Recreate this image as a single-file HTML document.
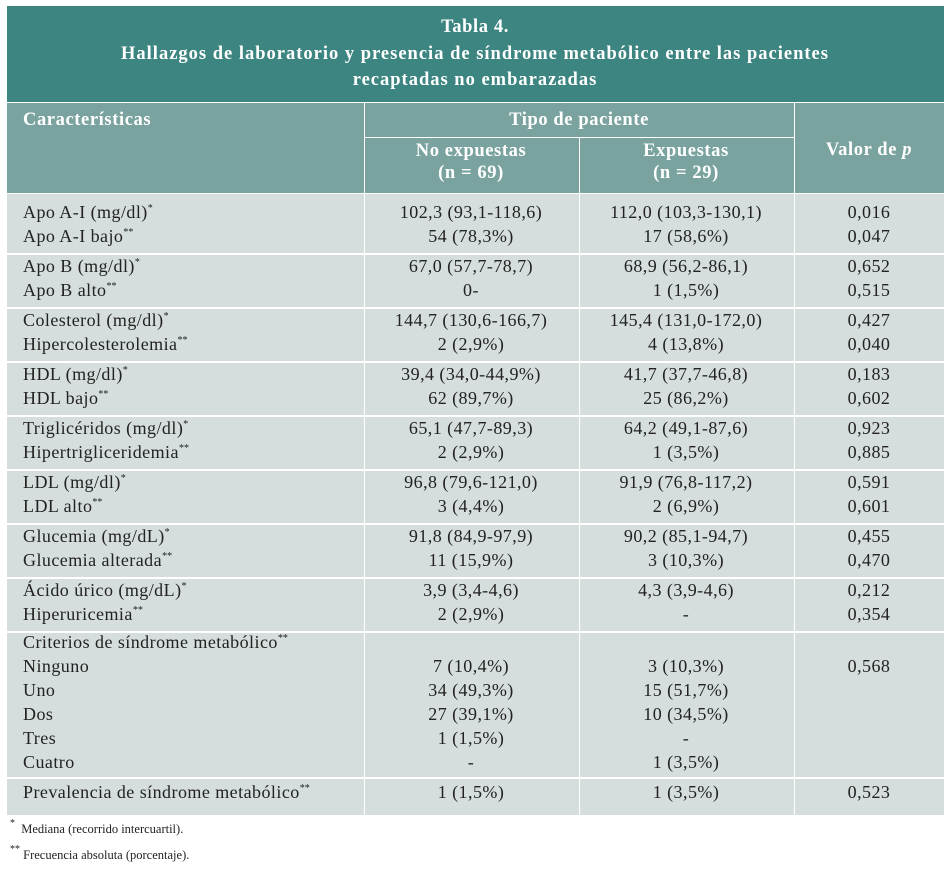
<!DOCTYPE html>
<html><head><meta charset="utf-8"><style>
body{margin:0;width:948px;height:870px;background:#fff;position:relative;font-family:"Liberation Serif",serif;color:#222;overflow:hidden}
.b{position:absolute}
.t{position:absolute;line-height:22px;font-size:18px;letter-spacing:0.45px;white-space:nowrap}
.c{transform:translateX(-50%)}
.h{color:#fff;font-weight:bold;font-size:18.5px;letter-spacing:0.6px}
sup{font-size:10px;vertical-align:7px;line-height:0;letter-spacing:0}
.f{position:absolute;font-size:12.5px;white-space:nowrap}
</style></head><body>
<div class="b" style="left:7px;top:6px;width:937px;height:96px;background:#3d8580"></div>
<div class="b" style="left:7px;top:103px;width:937px;height:90px;background:#7aa39f"></div>
<div class="b" style="left:7px;top:194px;width:937px;height:621px;background:#d6dddd"></div>
<div class="t c h" style="left:475px;top:16px">Tabla 4.</div>
<div class="t c h" style="left:475px;top:43px;letter-spacing:1px">Hallazgos de laboratorio y presencia de síndrome metabólico entre las pacientes</div>
<div class="t c h" style="left:475px;top:69px;letter-spacing:1px">recaptadas no embarazadas</div>
<div class="b" style="left:364px;top:103px;width:1px;height:90px;background:#fff"></div>
<div class="b" style="left:579px;top:137px;width:1px;height:56px;background:#fff"></div>
<div class="b" style="left:794px;top:103px;width:1px;height:90px;background:#fff"></div>
<div class="b" style="left:364px;top:137px;width:430px;height:1px;background:#fff"></div>
<div class="b" style="left:7px;top:193px;width:937px;height:1px;background:#fff"></div>
<div class="t h" style="left:23px;top:109px">Características</div>
<div class="t c h" style="left:579px;top:109px">Tipo de paciente</div>
<div class="t c h" style="left:471px;top:140px;text-align:center">No expuestas<br>(n = 69)</div>
<div class="t c h" style="left:686px;top:140px;text-align:center">Expuestas<br>(n = 29)</div>
<div class="t c h" style="left:869px;top:139px">Valor de <i>p</i></div>
<div class="b" style="left:364px;top:194px;width:1px;height:621px;background:#fff"></div>
<div class="b" style="left:579px;top:194px;width:1px;height:621px;background:#fff"></div>
<div class="b" style="left:794px;top:194px;width:1px;height:621px;background:#fff"></div>
<div id="rows"></div>
<div class="f" style="left:10px;top:822px"><sup>*</sup>&nbsp;&nbsp;Mediana (recorrido intercuartil).</div>
<div class="f" style="left:10px;top:848px"><sup>**</sup>&nbsp;Frecuencia absoluta (porcentaje).</div>
<script>
const rows=[
[212,"Apo A-I (mg/dl)<sup>*</sup>","102,3 (93,1-118,6)","112,0 (103,3-130,1)","0,016"],
[236,"Apo A-I bajo<sup>**</sup>","54 (78,3%)","17 (58,6%)","0,047"],
[266,"Apo B (mg/dl)<sup>*</sup>","67,0 (57,7-78,7)","68,9 (56,2-86,1)","0,652"],
[290,"Apo B alto<sup>**</sup>","0-","1 (1,5%)","0,515"],
[320,"Colesterol (mg/dl)<sup>*</sup>","144,7 (130,6-166,7)","145,4 (131,0-172,0)","0,427"],
[344,"Hipercolesterolemia<sup>**</sup>","2 (2,9%)","4 (13,8%)","0,040"],
[374,"HDL (mg/dl)<sup>*</sup>","39,4 (34,0-44,9%)","41,7 (37,7-46,8)","0,183"],
[398,"HDL bajo<sup>**</sup>","62 (89,7%)","25 (86,2%)","0,602"],
[428,"Triglicéridos (mg/dl)<sup>*</sup>","65,1 (47,7-89,3)","64,2 (49,1-87,6)","0,923"],
[452,"Hipertrigliceridemia<sup>**</sup>","2 (2,9%)","1 (3,5%)","0,885"],
[482,"LDL (mg/dl)<sup>*</sup>","96,8 (79,6-121,0)","91,9 (76,8-117,2)","0,591"],
[506,"LDL alto<sup>**</sup>","3 (4,4%)","2 (6,9%)","0,601"],
[536,"Glucemia (mg/dL)<sup>*</sup>","91,8 (84,9-97,9)","90,2 (85,1-94,7)","0,455"],
[560,"Glucemia alterada<sup>**</sup>","11 (15,9%)","3 (10,3%)","0,470"],
[590,"Ácido úrico (mg/dL)<sup>*</sup>","3,9 (3,4-4,6)","4,3 (3,9-4,6)","0,212"],
[614,"Hiperuricemia<sup>**</sup>","2 (2,9%)","-","0,354"],
[642,"Criterios de síndrome metabólico<sup>**</sup>","","",""],
[666,"Ninguno","7 (10,4%)","3 (10,3%)","0,568"],
[690,"Uno","34 (49,3%)","15 (51,7%)",""],
[714,"Dos","27 (39,1%)","10 (34,5%)",""],
[738,"Tres","1 (1,5%)","-",""],
[762,"Cuatro","-","1 (3,5%)",""],
[792,"Prevalencia de síndrome metabólico<sup>**</sup>","1 (1,5%)","1 (3,5%)","0,523"]];
const seps=[253,307,361,415,469,523,577,631,777];
const root=document.getElementById('rows');
seps.forEach(y=>{const d=document.createElement('div');d.className='b';d.style.cssText=`left:7px;top:${y}px;width:937px;height:2px;background:#fff`;


root.appendChild(d);});
const xs=[23,471,686,869];
rows.forEach(r=>{for(let i=0;i<4;i++){if(!r[i+1])continue;const d=document.createElement('div');d.className='t'+(i?' c':'');d.style.left=xs[i]+'px';d.style.top=(r[0]-11)+'px';d.innerHTML=r[i+1];


root.appendChild(d);}});
</script>
</body></html>
